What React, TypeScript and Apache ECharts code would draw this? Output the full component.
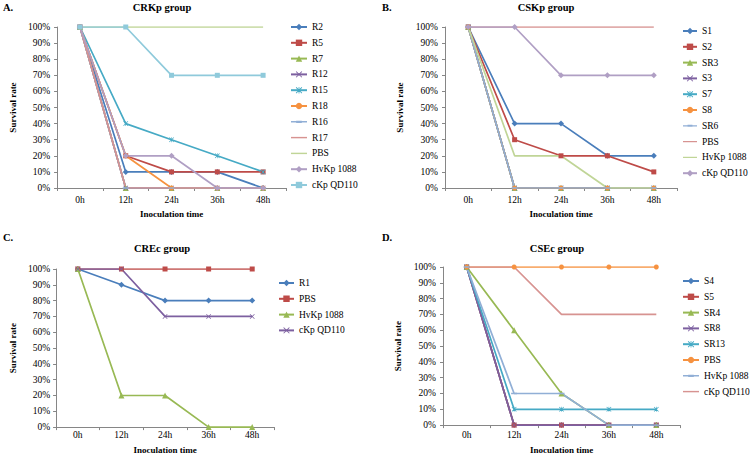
import React, { useEffect, useRef } from "react";
import * as echarts from "echarts";

const FONT = '"Liberation Serif", "Times New Roman", serif';

const hours = ["0h", "12h", "24h", "36h", "48h"];

// Panel A: CRKp group
const namesA = ["R2", "R5", "R7", "R12", "R15", "R18", "R16", "R17", "PBS", "HvKp 1088", "cKp QD110"];
const aR2 = [100, 10, 10, 10, 0];
const aR5 = [100, 20, 10, 10, 10];
const aR7 = [100, 0, 0, 0, 0];
const aR12 = [100, 0, 0, 0, 0];
const aR15 = [100, 40, 30, 20, 10];
const aR18 = [100, 20, 0, 0, 0];
const aR16 = [100, 0, 0, 0, 0];
const aR17 = [100, 0, 0, 0, 0];
const aPBS = [100, 100, 100, 100, 100];
const aHvKp = [100, 20, 20, 0, 0];
const aCKp = [100, 100, 70, 70, 70];

// Panel B: CSKp group
const namesB = ["S1", "S2", "SR3", "S3", "S7", "S8", "SR6", "PBS", "HvKp 1088", "cKp QD110"];
const bS1 = [100, 40, 40, 20, 20];
const bS2 = [100, 30, 20, 20, 10];
const bSR3 = [100, 0, 0, 0, 0];
const bS3 = [100, 0, 0, 0, 0];
const bS7 = [100, 0, 0, 0, 0];
const bS8 = [100, 0, 0, 0, 0];
const bSR6 = [100, 0, 0, 0, 0];
const bPBS = [100, 100, 100, 100, 100];
const bHvKp = [100, 20, 20, 0, 0];
const bCKp = [100, 100, 70, 70, 70];

// Panel C: CREc group
const namesC = ["R1", "PBS", "HvKp 1088", "cKp QD110"];
const cR1 = [100, 90, 80, 80, 80];
const cPBS = [100, 100, 100, 100, 100];
const cHvKp = [100, 20, 20, 0, 0];
const cCKp = [100, 100, 70, 70, 70];

// Panel D: CSEc group
const namesD = ["S4", "S5", "SR4", "SR8", "SR13", "PBS", "HvKp 1088", "cKp QD110"];
const dS4 = [100, 0, 0, 0, 0];
const dS5 = [100, 0, 0, 0, 0];
const dSR4 = [100, 60, 20, 0, 0];
const dSR8 = [100, 0, 0, 0, 0];
const dSR13 = [100, 10, 10, 10, 10];
const dPBS = [100, 100, 100, 100, 100];
const dHvKp = [100, 20, 20, 0, 0];
const dCKp = [100, 100, 70, 70, 70];

const COLORS = [
  "#4A7EBB", "#BE4B48", "#98B954", "#7D60A0", "#46AAC5", "#F69240",
  "#91AFD6", "#D79391", "#C0D597", "#B09FC4", "#8FCADB",
];

const X_SYM = "path://M0,1L1,0L5,4L9,0L10,1L6,5L10,9L9,10L5,6L1,10L0,9L4,5Z";
const STAR_SYM =
  "path://M0,1L1,0L5,4L9,0L10,1L6,5L10,9L9,10L5,6L1,10L0,9L4,5ZM4.4,0L5.6,0L5.6,10L4.4,10Z";
const PLAIN_LINE_ICON = "path://M0,0H20V1.8H0Z";
const DASH_LINE_ICON = "path://M0,4.1H20V5.9H0ZM6.5,3.6H13.5V6.4H6.5Z";

type Mk = { symbol: string; size: number | number[]; legendIcon?: string };
const MARKERS: Mk[] = [
  { symbol: "diamond", size: 6 },
  { symbol: "rect", size: 5 },
  { symbol: "triangle", size: 6 },
  { symbol: X_SYM, size: 5 },
  { symbol: STAR_SYM, size: 5 },
  { symbol: "circle", size: 5 },
  { symbol: "rect", size: [6, 1.5], legendIcon: DASH_LINE_ICON },
  { symbol: "none", size: 0, legendIcon: PLAIN_LINE_ICON },
  { symbol: "none", size: 0, legendIcon: PLAIN_LINE_ICON },
  { symbol: "diamond", size: 6 },
  { symbol: "rect", size: 5 },
];

type PanelCfg = {
  letter: string;
  title: string;
  names: string[];
  data: number[][];
  markers: number[];
  height: number;
  gridLeft: number;
  gridTop: number;
  gridW: number;
  gridH: number;
  letterX: number;
  letterY: number;
  titleX: number;
  titleY: number;
  legendLeft: number;
  legendTop: number;
  legendW: number;
  labelMargin: number;
  xNameGap: number;
  yLabelMargin: number;
};

const panels: (PanelCfg & { left: number; top: number })[] = [
  {
    letter: "A.", title: "CRKp group", names: namesA,
    data: [aR2, aR5, aR7, aR12, aR15, aR18, aR16, aR17, aPBS, aHvKp, aCKp],
    markers: [0, 1, 2, 3, 4, 5, 6, 7, 8, 9, 10],
    left: 0, top: 0, height: 225,
    gridLeft: 53, gridTop: 27, gridW: 233, gridH: 161,
    letterX: 3, letterY: 7, titleX: 162, titleY: 7,
    legendLeft: 290, legendTop: 21, legendW: 16,
    labelMargin: 7, xNameGap: 19, yLabelMargin: 7,
  },
  {
    letter: "B.", title: "CSKp group", names: namesB,
    data: [bS1, bS2, bSR3, bS3, bS7, bS8, bSR6, bPBS, bHvKp, bCKp],
    markers: [0, 1, 2, 3, 4, 5, 6, 7, 8, 9],
    left: 375, top: 0, height: 225,
    gridLeft: 70, gridTop: 27, gridW: 232, gridH: 161,
    letterX: 7, letterY: 7, titleX: 171, titleY: 7,
    legendLeft: 307, legendTop: 25, legendW: 14,
    labelMargin: 7, xNameGap: 19, yLabelMargin: 7,
  },
  {
    letter: "C.", title: "CREc group", names: namesC,
    data: [cR1, cPBS, cHvKp, cCKp],
    markers: [0, 1, 2, 3],
    left: 0, top: 225, height: 234,
    gridLeft: 52, gridTop: 44, gridW: 222, gridH: 161,
    letterX: 3, letterY: 12, titleX: 162, titleY: 23,
    legendLeft: 278, legendTop: 52, legendW: 15,
    labelMargin: 3, xNameGap: 12, yLabelMargin: 6,
  },
  {
    letter: "D.", title: "CSEc group", names: namesD,
    data: [dS4, dS5, dSR4, dSR8, dSR13, dPBS, dHvKp, dCKp],
    markers: [0, 1, 2, 3, 4, 5, 6, 7],
    left: 375, top: 225, height: 234,
    gridLeft: 68, gridTop: 42, gridW: 237, gridH: 161,
    letterX: 7, letterY: 12, titleX: 182, titleY: 23,
    legendLeft: 307, legendTop: 50, legendW: 16,
    labelMargin: 5, xNameGap: 13, yLabelMargin: 7,
  },
];

function buildOption(p: PanelCfg) {
  const axisColor = "#868686";
  return {
    animation: false,
    textStyle: { fontFamily: FONT },
    grid: { left: p.gridLeft, top: p.gridTop, width: p.gridW, height: p.gridH },
    xAxis: {
      type: "category",
      data: hours,
      boundaryGap: true,
      axisLine: { lineStyle: { color: axisColor, width: 1 } },
      axisTick: { show: true, length: 3, lineStyle: { color: axisColor } },
      axisLabel: { color: "#000", fontSize: 9.5, margin: p.labelMargin, fontFamily: FONT },
      name: "Inoculation time",
      nameLocation: "middle",
      nameGap: p.xNameGap,
      nameTextStyle: { color: "#000", fontSize: 9, fontWeight: "bold", fontFamily: FONT },
    },
    yAxis: {
      type: "value",
      min: 0,
      max: 100,
      interval: 10,
      splitLine: { show: false },
      axisLine: { show: true, lineStyle: { color: axisColor, width: 1 } },
      axisTick: { show: true, length: 3, lineStyle: { color: axisColor } },
      axisLabel: { color: "#000", fontSize: 9.5, margin: p.yLabelMargin, formatter: "{value}%", fontFamily: FONT },
      name: "Survival rate",
      nameLocation: "middle",
      nameGap: 33,
      nameTextStyle: { color: "#000", fontSize: 9, fontWeight: "bold", fontFamily: FONT },
    },
    legend: {
      orient: "vertical",
      left: p.legendLeft,
      top: p.legendTop,
      padding: 0,
      itemWidth: p.legendW,
      itemHeight: 8,
      itemGap: 3.8,
      textStyle: { color: "#000", fontSize: 9.5, lineHeight: 12, fontFamily: FONT },
      data: p.names.map((name, i) => {
        const mk = MARKERS[p.markers[i]];
        return mk.legendIcon ? { name, icon: mk.legendIcon } : { name };
      }),
      selectedMode: false,
    },
    series: p.names.map((name, i) => {
      const mk = MARKERS[p.markers[i]];
      return {
        name,
        type: "line",
        data: p.data[i],
        symbol: mk.symbol,
        symbolSize: mk.size,
        symbolKeepAspect: false,
        showSymbol: mk.symbol !== "none",
        lineStyle: { width: 1.7, color: COLORS[i] },
        itemStyle: { color: COLORS[i] },
        emphasis: { disabled: true },
      };
    }),
    graphic: [
      {
        type: "text",
        x: p.letterX,
        y: p.letterY,
        style: {
          text: p.letter,
          fontFamily: FONT,
          fontSize: 10.5,
          fontWeight: "bold",
          fill: "#000",
          textAlign: "left",
          textVerticalAlign: "middle",
        },
      },
      {
        type: "text",
        x: p.titleX,
        y: p.titleY,
        style: {
          text: p.title,
          fontFamily: FONT,
          fontSize: 10.5,
          fontWeight: "bold",
          fill: "#000",
          textAlign: "center",
          textVerticalAlign: "middle",
        },
      },
    ],
  };
}

function Panel({ cfg }: { cfg: PanelCfg & { left: number; top: number } }) {
  const ref = useRef<HTMLDivElement>(null);
  useEffect(() => {
    if (!ref.current) return;
    const chart = echarts.init(ref.current, null, { renderer: "svg" });
    chart.setOption(buildOption(cfg) as any);
    return () => chart.dispose();
  }, [cfg]);
  return (
    <div
      ref={ref}
      style={{ position: "absolute", left: cfg.left, top: cfg.top, width: 375, height: cfg.height }}
    />
  );
}

export default function App() {
  return (
    <div style={{ position: "absolute", left: 0, top: 0, width: 750, height: 459, background: "#fff", overflow: "hidden" }}>
      {panels.map((p) => (
        <Panel key={p.letter} cfg={p} />
      ))}
    </div>
  );
}
